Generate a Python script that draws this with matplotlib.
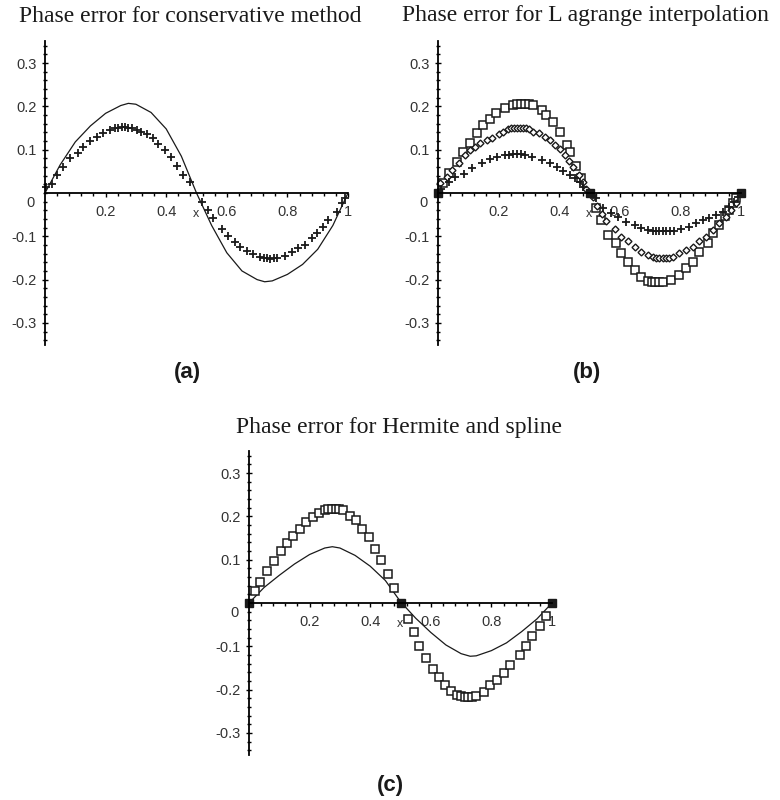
import numpy as np
import matplotlib
matplotlib.use("Agg")
import matplotlib.pyplot as plt

# (a) conservative method: exact phase error curve and computed values
a_line_x = [0.0, 0.05, 0.1, 0.15, 0.2, 0.25, 0.275, 0.3, 0.35, 0.4, 0.45, 0.5,
            0.55, 0.6, 0.65, 0.7, 0.725, 0.75, 0.8, 0.85, 0.9, 0.95, 1.0]
a_line_y = [0.0, 0.065, 0.118, 0.155, 0.184, 0.202, 0.207, 0.205, 0.186, 0.148, 0.085, 0.0,
            -0.075, -0.138, -0.180, -0.200, -0.205, -0.203, -0.188, -0.165, -0.130, -0.075, 0.0]
a_plus_x = [0.003, 0.022, 0.039, 0.060, 0.083, 0.108, 0.126, 0.149, 0.171, 0.192, 0.215, 0.231,
            0.242, 0.253, 0.264, 0.275, 0.286, 0.303, 0.318, 0.336, 0.357, 0.374, 0.396, 0.416,
            0.435, 0.456, 0.479,
            0.517, 0.539, 0.556, 0.583, 0.605, 0.627, 0.644, 0.666, 0.688, 0.710, 0.722, 0.733,
            0.744, 0.755, 0.766, 0.792, 0.814, 0.836, 0.858, 0.880, 0.897, 0.918, 0.935, 0.963,
            0.979, 0.990]
a_plus_y = [0.015, 0.021, 0.042, 0.061, 0.080, 0.093, 0.107, 0.120, 0.130, 0.139, 0.145, 0.149,
            0.151, 0.152, 0.152, 0.151, 0.150, 0.145, 0.141, 0.136, 0.126, 0.113, 0.099, 0.082,
            0.062, 0.042, 0.026,
            -0.020, -0.039, -0.058, -0.082, -0.099, -0.114, -0.124, -0.134, -0.142, -0.147, -0.150, -0.151,
            -0.152, -0.151, -0.150, -0.145, -0.136, -0.126, -0.119, -0.105, -0.093, -0.078, -0.062, -0.043,
            -0.024, -0.012]

# (b) Lagrange interpolation, three orders
b_sq_x = [0.015, 0.037, 0.062, 0.081, 0.105, 0.130, 0.149, 0.171, 0.193, 0.221, 0.248, 0.262,
          0.275, 0.288, 0.301, 0.314, 0.342, 0.358, 0.380, 0.402, 0.425, 0.437, 0.457, 0.473,
          0.523, 0.539, 0.561, 0.589, 0.605, 0.627, 0.649, 0.671, 0.693, 0.705, 0.717, 0.730,
          0.742, 0.770, 0.797, 0.819, 0.841, 0.863, 0.891, 0.907, 0.929, 0.946, 0.962, 0.973, 0.985]
b_sq_y = [0.022, 0.047, 0.072, 0.095, 0.115, 0.138, 0.157, 0.172, 0.184, 0.196, 0.203, 0.205,
          0.206, 0.206, 0.205, 0.203, 0.192, 0.180, 0.165, 0.142, 0.112, 0.095, 0.062, 0.035,
          -0.035, -0.062, -0.097, -0.116, -0.139, -0.159, -0.178, -0.193, -0.203, -0.205, -0.206, -0.206,
          -0.205, -0.201, -0.189, -0.174, -0.159, -0.136, -0.116, -0.093, -0.074, -0.053, -0.039, -0.024, -0.012]
b_dia_x = [0.008, 0.030, 0.046, 0.068, 0.090, 0.107, 0.123, 0.140, 0.161, 0.178, 0.200, 0.216,
           0.231, 0.240, 0.250, 0.260, 0.270, 0.280, 0.290, 0.299, 0.315, 0.332, 0.354, 0.370,
           0.387, 0.403, 0.420, 0.433, 0.447, 0.464, 0.478, 0.490,
           0.510, 0.525, 0.540, 0.556, 0.583, 0.605, 0.627, 0.649, 0.671, 0.693, 0.709, 0.720,
           0.731, 0.742, 0.753, 0.764, 0.775, 0.797, 0.819, 0.841, 0.863, 0.885, 0.907, 0.929,
           0.951, 0.968, 0.984]
b_dia_y = [0.022, 0.038, 0.053, 0.069, 0.088, 0.099, 0.107, 0.115, 0.122, 0.128, 0.136, 0.142,
           0.148, 0.149, 0.150, 0.150, 0.150, 0.150, 0.149, 0.148, 0.142, 0.138, 0.130, 0.122,
           0.111, 0.101, 0.088, 0.075, 0.061, 0.042, 0.025, 0.010,
           -0.010, -0.030, -0.048, -0.064, -0.082, -0.101, -0.112, -0.124, -0.136, -0.143, -0.148, -0.149,
           -0.150, -0.150, -0.150, -0.149, -0.148, -0.139, -0.132, -0.124, -0.112, -0.101, -0.085, -0.070,
           -0.055, -0.039, -0.024]
b_plus_x = [0.010, 0.035, 0.057, 0.085, 0.112, 0.145, 0.172, 0.194, 0.222, 0.235, 0.248, 0.261,
            0.274, 0.288, 0.310, 0.343, 0.370, 0.392, 0.414, 0.436, 0.452, 0.469, 0.480,
            0.523, 0.545, 0.572, 0.594, 0.622, 0.649, 0.671, 0.693, 0.709, 0.720, 0.731, 0.742,
            0.753, 0.765, 0.780, 0.803, 0.830, 0.852, 0.874, 0.896, 0.918, 0.940, 0.962, 0.978, 0.990]
b_plus_y = [0.010, 0.026, 0.038, 0.045, 0.057, 0.069, 0.079, 0.082, 0.087, 0.088, 0.089, 0.089,
            0.089, 0.088, 0.083, 0.076, 0.069, 0.061, 0.050, 0.042, 0.034, 0.026, 0.015,
            -0.012, -0.035, -0.047, -0.055, -0.066, -0.074, -0.080, -0.085, -0.087, -0.088, -0.088, -0.088,
            -0.088, -0.088, -0.087, -0.082, -0.078, -0.070, -0.062, -0.058, -0.051, -0.043, -0.032, -0.020, -0.009]

# (c) Hermite (curve) and spline (squares)
c_line_x = [0.0, 0.05, 0.1, 0.15, 0.2, 0.25, 0.275, 0.3, 0.35, 0.4, 0.45, 0.5,
            0.55, 0.6, 0.65, 0.7, 0.73, 0.75, 0.8, 0.85, 0.9, 0.95, 1.0]
c_line_y = [0.0, 0.036, 0.064, 0.090, 0.112, 0.127, 0.130, 0.127, 0.110, 0.085, 0.052, 0.003,
            -0.035, -0.068, -0.097, -0.117, -0.123, -0.122, -0.110, -0.092, -0.066, -0.037, 0.0]
c_sq_x = [0.019, 0.037, 0.060, 0.082, 0.107, 0.126, 0.145, 0.169, 0.189, 0.211, 0.231, 0.250,
          0.262, 0.274, 0.286, 0.298, 0.310, 0.334, 0.354, 0.373, 0.396, 0.417, 0.437, 0.459,
          0.477, 0.524, 0.543, 0.562, 0.584, 0.606, 0.626, 0.648, 0.668, 0.688, 0.700, 0.712,
          0.724, 0.736, 0.750, 0.775, 0.797, 0.819, 0.841, 0.863, 0.893, 0.913, 0.935, 0.959, 0.979]
c_sq_y = [0.027, 0.048, 0.075, 0.098, 0.119, 0.139, 0.155, 0.172, 0.188, 0.199, 0.208, 0.215,
          0.216, 0.216, 0.216, 0.216, 0.214, 0.202, 0.192, 0.172, 0.152, 0.125, 0.099, 0.068,
          0.035, -0.036, -0.066, -0.100, -0.126, -0.152, -0.172, -0.190, -0.204, -0.212, -0.215, -0.216,
          -0.216, -0.216, -0.215, -0.206, -0.190, -0.177, -0.162, -0.144, -0.119, -0.100, -0.077, -0.054, -0.031]

# points where all interpolants coincide with the grid
node_x = [0.0, 0.5, 1.0]
node_y = [0.0, 0.0, 0.0]

x_ticks = [0.2, 0.4, 0.6, 0.8, 1.0]
x_tick_labels = ["0.2", "0.4", "0.6", "0.8", "1"]
y_ticks = [-0.3, -0.2, -0.1, 0.1, 0.2, 0.3]
y_tick_labels = ["-0.3", "-0.2", "-0.1", "0.1", "0.2", "0.3"]

W, H = 780, 800
fig = plt.figure(figsize=(W / 100, H / 100), dpi=100)
fig.patch.set_facecolor("white")

SANS = ["Liberation Sans", "DejaVu Sans"]
TICK_SIZE = 10.5
INK = "#1a1a1a"


def make_axes(left_px, zero_px):
    # axes spanning x in [0, 1] and y in [-0.35, 0.35]; 303 px per unit x, 433 px per unit y
    w = 303
    h = 0.70 * 433
    top = zero_px - 0.35 * 433
    ax = fig.add_axes([left_px / W, 1 - (top + h) / H, w / W, h / H])
    ax.set_xlim(0, 1.0)
    ax.set_ylim(-0.35, 0.35)
    for side in ["top", "right"]:
        ax.spines[side].set_visible(False)
    ax.spines["left"].set_position(("data", 0))
    ax.spines["bottom"].set_position(("data", 0))
    ax.spines["left"].set_linewidth(1.3)
    ax.spines["bottom"].set_linewidth(1.3)
    ax.set_xticks(x_ticks)
    ax.set_xticklabels(x_tick_labels, fontfamily=SANS, fontsize=TICK_SIZE, color="#333")
    ax.set_xticks(np.arange(0.04, 1.0, 0.04), minor=True)
    ax.set_yticks(y_ticks)
    ax.set_yticklabels(y_tick_labels, fontfamily=SANS, fontsize=TICK_SIZE, color="#333")
    ax.set_yticks(np.arange(-0.34, 0.35, 0.02), minor=True)
    ax.tick_params(axis="x", which="major", direction="out", length=3, width=1, pad=6)
    ax.tick_params(axis="x", which="minor", direction="out", length=2, width=1)
    ax.tick_params(axis="y", which="major", direction="inout", length=4, width=1, pad=4)
    ax.tick_params(axis="y", which="minor", direction="inout", length=3, width=1)
    ax.text(-0.035, -0.022, "0", ha="right", va="center", color="#333",
            fontfamily=SANS, fontsize=TICK_SIZE)
    ax.text(0.497, -0.048, "x", ha="center", va="center", color="#333", fontsize=9,
            fontfamily=SANS)
    return ax


def square(ax, x, y):
    ax.plot(x, y, ls="none", marker="s", ms=5.5, mfc="white", mec=INK, mew=1.1, clip_on=False)


def plus(ax, x, y):
    ax.plot(x, y, ls="none", marker="+", ms=6, mec=INK, mew=1.3, clip_on=False)


# (a)
ax_a = make_axes(45, 193)
ax_a.plot(a_line_x, a_line_y, color=INK, lw=0.9)
plus(ax_a, a_plus_x, a_plus_y)

# (b)
ax_b = make_axes(438, 193)
square(ax_b, b_sq_x, b_sq_y)
ax_b.plot(b_dia_x, b_dia_y, ls="none", marker="D", ms=3.5, mfc="white", mec=INK, mew=1.0, clip_on=False)
plus(ax_b, b_plus_x, b_plus_y)
ax_b.plot(node_x, node_y, ls="none", marker="s", ms=6, color=INK, clip_on=False)

# (c)
ax_c = make_axes(249, 603)
ax_c.plot(c_line_x, c_line_y, color=INK, lw=0.9)
square(ax_c, c_sq_x, c_sq_y)
ax_c.plot(node_x, node_y, ls="none", marker="s", ms=6, color=INK, clip_on=False)

title_font = dict(fontfamily=["Liberation Serif", "DejaVu Serif"], fontsize=17, color=INK,
                  ha="center", va="center")
fig.text(190 / W, 1 - 16 / H, "Phase error for conservative method", **title_font)
fig.text(585 / W, 1 - 16 / H, "Phase error for L agrange interpolation", **title_font)
fig.text(399 / W, 1 - 428 / H, "Phase error for Hermite and spline", **title_font)

label_font = dict(fontfamily=SANS, fontsize=16, fontweight="bold",
                  color=INK, ha="center", va="center")
fig.text(187 / W, 1 - 372 / H, "(a)", **label_font)
fig.text(587 / W, 1 - 372 / H, "(b)", **label_font)
fig.text(390 / W, 1 - 785 / H, "(c)", **label_font)

fig.savefig("out.png", dpi=100, facecolor="white")
